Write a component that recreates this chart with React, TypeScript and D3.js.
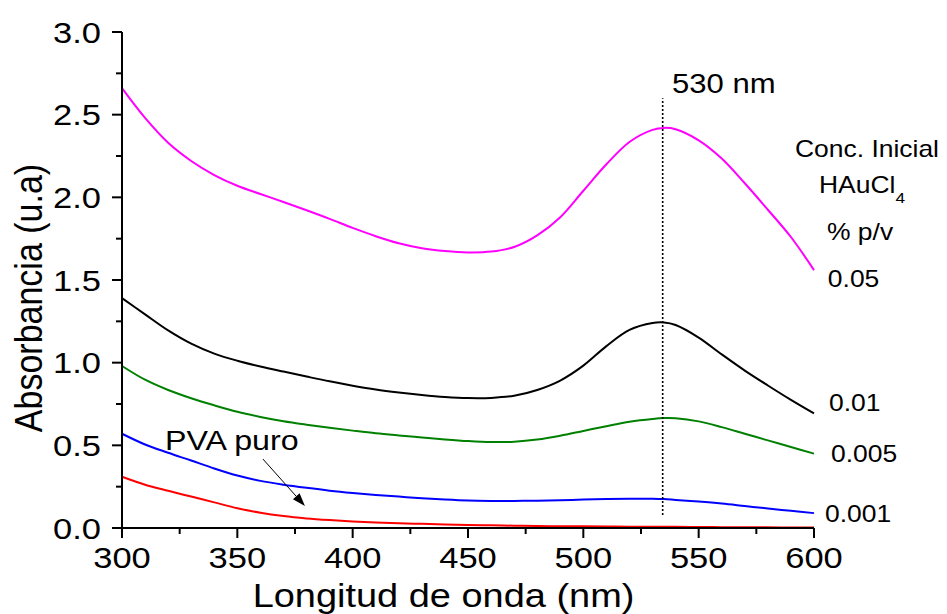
import React from "react";
import * as d3 from "d3";

// ---- data ----
const WAVELENGTH = [300, 310, 320, 330, 340, 350, 360, 370, 380, 390, 400, 410, 420, 430, 440, 450, 460, 470, 480, 490, 500, 510, 520, 530, 535, 540, 550, 560, 570, 580, 590, 600];

const ABS_005 = [2.66, 2.48, 2.33, 2.22, 2.135, 2.07, 2.02, 1.972, 1.922, 1.87, 1.815, 1.765, 1.722, 1.692, 1.675, 1.667, 1.672, 1.70, 1.77, 1.88, 2.04, 2.20, 2.335, 2.408, 2.42, 2.412, 2.345, 2.235, 2.085, 1.925, 1.76, 1.56];
const ABS_001 = [1.39, 1.292, 1.195, 1.115, 1.055, 1.012, 0.977, 0.946, 0.916, 0.887, 0.861, 0.838, 0.82, 0.805, 0.793, 0.786, 0.787, 0.80, 0.835, 0.892, 0.982, 1.10, 1.198, 1.24, 1.243, 1.228, 1.152, 1.05, 0.952, 0.862, 0.775, 0.693];
const ABS_0005 = [0.98, 0.897, 0.835, 0.785, 0.742, 0.703, 0.672, 0.646, 0.625, 0.606, 0.589, 0.573, 0.56, 0.548, 0.536, 0.526, 0.52, 0.522, 0.535, 0.558, 0.587, 0.616, 0.643, 0.66, 0.665, 0.664, 0.645, 0.61, 0.57, 0.53, 0.49, 0.45];
const ABS_0001 = [0.57, 0.505, 0.455, 0.408, 0.36, 0.317, 0.285, 0.262, 0.243, 0.226, 0.212, 0.2, 0.19, 0.18, 0.172, 0.166, 0.164, 0.164, 0.165, 0.168, 0.172, 0.175, 0.177, 0.177, 0.175, 0.17, 0.16, 0.148, 0.133, 0.118, 0.104, 0.09];
const ABS_PVA = [0.31, 0.262, 0.225, 0.19, 0.155, 0.12, 0.092, 0.072, 0.058, 0.048, 0.04, 0.034, 0.029, 0.025, 0.021, 0.018, 0.016, 0.014, 0.012, 0.011, 0.01, 0.009, 0.008, 0.008, 0.007, 0.007, 0.006, 0.005, 0.005, 0.004, 0.003, 0.003];

const SERIES_VALUES = [ABS_005, ABS_001, ABS_0005, ABS_0001, ABS_PVA];
const SERIES_COLORS = ["#ff00ff", "#000000", "#008000", "#0000ff", "#ff0000"];

// end labels (concentration % p/v)
const END_LABELS = ["0.05", "0.01", "0.005", "0.001"];
const END_LABEL_NM = [606, 606.5, 607.4, 604.8];
const END_LABEL_ABS = [1.459, 0.709, 0.401, 0.038];

const X_MAJOR = [300, 350, 400, 450, 500, 550, 600];
const X_MINOR = [325, 375, 425, 475, 525, 575];
const Y_MAJOR = [0, 0.5, 1.0, 1.5, 2.0, 2.5, 3.0];
const Y_MINOR = [0.25, 0.75, 1.25, 1.75, 2.25, 2.75];

const PEAK_NM = 534.4;
const PEAK_LINE_ABS = [0.079, 2.6];

// arrow for PVA puro label (nm, abs)
const ARROW_FROM = [361.1, 0.417];
const ARROW_TO = [379.3, 0.133];

const W = 947;
const H = 614;
const SX = 1.15;
const FONT = "Arial, 'Liberation Sans', Helvetica, sans-serif";

export default function App() {
  const x = d3.scaleLinear().domain([300, 600]).range([122, 814]);
  const y = d3.scaleLinear().domain([0, 3]).range([528, 32]);

  const line = d3
    .line<[number, number]>()
    .x((d) => x(d[0]))
    .y((d) => y(d[1]))
    .curve(d3.curveCatmullRom.alpha(0.5));

  const txt = (
    px: number,
    py: number,
    s: string,
    size: number,
    anchor: string = "start",
    key?: string
  ) => (
    <text
      key={key}
      transform={`translate(${px},${py}) scale(${SX},1)`}
      fontSize={size}
      fontFamily={FONT}
      textAnchor={anchor}
      fill="#000"
    >
      {s}
    </text>
  );

  // arrow geometry
  const ax1 = x(ARROW_FROM[0]);
  const ay1 = y(ARROW_FROM[1]);
  const ax2 = x(ARROW_TO[0]);
  const ay2 = y(ARROW_TO[1]);
  const ang = Math.atan2(ay2 - ay1, ax2 - ax1);
  const hl = 13;
  const hw = 4.5;
  const bx = ax2 - hl * Math.cos(ang);
  const by = ay2 - hl * Math.sin(ang);
  const head = [
    [ax2, ay2],
    [bx + hw * Math.sin(ang), by - hw * Math.cos(ang)],
    [bx - hw * Math.sin(ang), by + hw * Math.cos(ang)],
  ]
    .map((p) => p.join(","))
    .join(" ");

  return (
    <svg
      width={W}
      height={H}
      style={{ position: "absolute", left: 0, top: 0, background: "#fff" }}
    >
      <rect width={W} height={H} fill="#fff" />
      {/* series */}
      {SERIES_VALUES.map((vals, i) => (
        <path
          key={i}
          d={line(WAVELENGTH.map((w, j) => [w, vals[j]] as [number, number])) || ""}
          fill="none"
          stroke={SERIES_COLORS[i]}
          strokeWidth={2}
        />
      ))}

      {/* peak marker */}
      <line
        x1={x(PEAK_NM)}
        x2={x(PEAK_NM)}
        y1={y(PEAK_LINE_ABS[0])}
        y2={y(PEAK_LINE_ABS[1])}
        stroke="#000"
        strokeWidth={1.6}
        strokeDasharray="2,2"
      />
      {txt(672, 93, "530 nm", 27)}

      {/* axes */}
      <line x1={x(300)} x2={x(600)} y1={y(0)} y2={y(0)} stroke="#000" strokeWidth={2} />
      <line x1={x(300)} x2={x(300)} y1={y(0) + 1} y2={y(3)} stroke="#000" strokeWidth={2} />
      {X_MAJOR.map((v) => (
        <line key={"xM" + v} x1={x(v)} x2={x(v)} y1={y(0)} y2={y(0) + 10} stroke="#000" strokeWidth={2} />
      ))}
      {X_MINOR.map((v) => (
        <line key={"xm" + v} x1={x(v)} x2={x(v)} y1={y(0)} y2={y(0) + 6} stroke="#000" strokeWidth={2} />
      ))}
      {Y_MAJOR.map((v) => (
        <line key={"yM" + v} x1={x(300) - 10} x2={x(300)} y1={y(v)} y2={y(v)} stroke="#000" strokeWidth={2} />
      ))}
      {Y_MINOR.map((v) => (
        <line key={"ym" + v} x1={x(300) - 6} x2={x(300)} y1={y(v)} y2={y(v)} stroke="#000" strokeWidth={2} />
      ))}
      {X_MAJOR.map((v) => txt(x(v), 568, String(v), 30, "middle", "xl" + v))}
      {Y_MAJOR.map((v) => txt(x(300) - 21, y(v) + 10.5, d3.format(".1f")(v), 30, "end", "yl" + v))}

      {/* axis titles */}
      {txt((252 + 635) / 2, 607, "Longitud de onda (nm)", 33, "middle")}
      <text
        transform={`translate(42,298) rotate(-90) scale(1,${SX})`}
        fontSize={34}
        fontFamily={FONT}
        textAnchor="middle"
        fill="#000"
      >
        Absorbancia (u.a)
      </text>

      {/* legend title */}
      {txt(795, 157, "Conc. Inicial", 23)}
      <text transform={`translate(819,193) scale(${SX},1)`} fontSize={23} fontFamily={FONT} fill="#000">
        HAuCl
        <tspan fontSize={15} dy={10}>4</tspan>
      </text>
      {txt(827, 240, "% p/v", 23)}

      {/* end labels */}
      {END_LABELS.map((s, i) => txt(x(END_LABEL_NM[i]), y(END_LABEL_ABS[i]), s, 23, "start", "el" + i))}

      {/* PVA puro */}
      {txt(165, 450, "PVA puro", 28)}
      <line x1={ax1} y1={ay1} x2={bx} y2={by} stroke="#000" strokeWidth={1} />
      <polygon points={head} fill="#000" />
    </svg>
  );
}
